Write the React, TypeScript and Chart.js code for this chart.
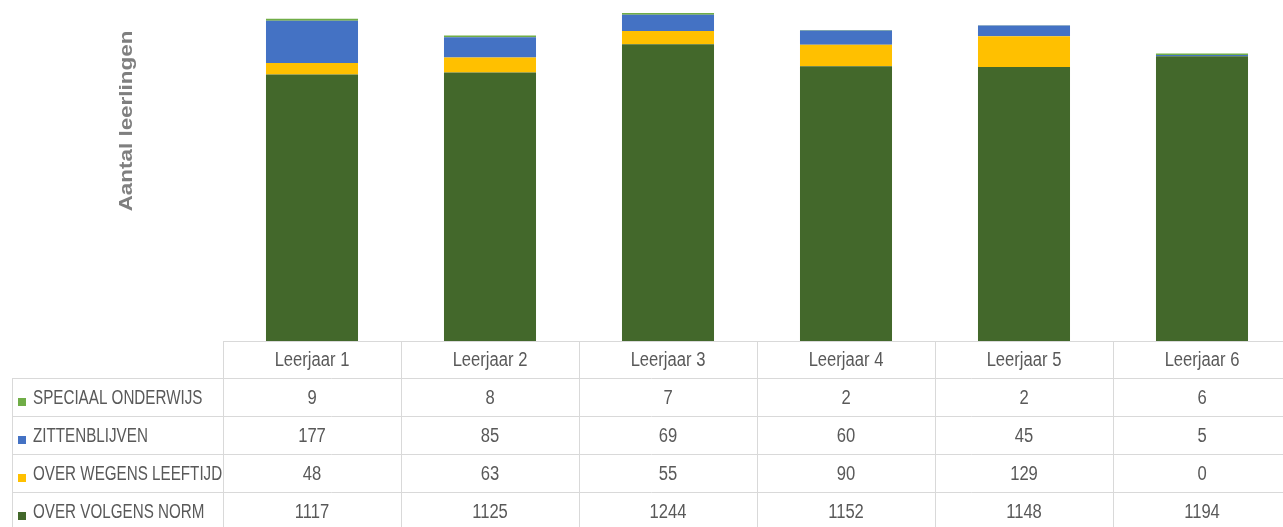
import React, { useEffect, useRef } from "react";
import { Chart, registerables } from "chart.js";

Chart.register(...registerables);

const categories = ["Leerjaar 1", "Leerjaar 2", "Leerjaar 3", "Leerjaar 4", "Leerjaar 5", "Leerjaar 6"];
const overVolgensNorm = [1117, 1125, 1244, 1152, 1148, 1194];
const overWegensLeeftijd = [48, 63, 55, 90, 129, 0];
const zittenblijven = [177, 85, 69, 60, 45, 5];
const speciaalOnderwijs = [9, 8, 7, 2, 2, 6];
const seriesNames = ["OVER VOLGENS NORM", "OVER WEGENS LEEFTIJD", "ZITTENBLIJVEN", "SPECIAAL ONDERWIJS"];
const seriesColors = ["#43682B", "#FFC000", "#4472C4", "#70AD47"];
const yMin = 0;
const yMax = 1400;
const yTitle = "Aantal leerlingen";

const TEXT_COLOR = "#595959";
const LINE_COLOR = "#d9d9d9";
const FONT = "Liberation Sans, Arial, sans-serif";
const SQUEEZE_CELL = 0.83;
const SQUEEZE_LABEL = 0.76;

function squeezedText(ctx: CanvasRenderingContext2D, text: string, x: number, y: number, align: CanvasTextAlign, sx: number) {
  ctx.save();
  ctx.translate(x, y);
  ctx.scale(sx, 1);
  ctx.textAlign = align;
  ctx.fillText(text, 0, 0);
  ctx.restore();
}

const tablePlugin = {
  id: "dataTable",
  afterDraw(chart: any) {
    const { ctx, chartArea, scales } = chart;
    const xs = scales.x;
    const n = categories.length;
    const colW = (chartArea.right - chartArea.left) / n;
    const top = chartArea.bottom;
    const headerH = 37;
    const rowH = 38;
    const labelLeft = 12;
    const right = chart.width;
    const bottom = chart.height;
    const datasets = chart.data.datasets;
    const rows = datasets.map((_: any, i: number) => i).reverse();

    ctx.save();
    ctx.strokeStyle = LINE_COLOR;
    ctx.lineWidth = 1;
    const line = (x1: number, y1: number, x2: number, y2: number) => {
      ctx.beginPath();
      ctx.moveTo(x1, y1);
      ctx.lineTo(x2, y2);
      ctx.stroke();
    };
    line(chartArea.left, Math.round(top) + 0.5, right, Math.round(top) + 0.5);
    for (let r = 0; r < rows.length; r++) {
      const y = Math.round(top + headerH + r * rowH) + 0.5;
      line(labelLeft, y, right, y);
    }
    line(labelLeft + 0.5, top + headerH, labelLeft + 0.5, bottom);
    for (let i = 0; i <= n; i++) {
      const xx = Math.round(chartArea.left + i * colW) + 0.5;
      line(xx, top, xx, bottom);
    }

    ctx.fillStyle = TEXT_COLOR;
    ctx.font = `20px ${FONT}`;
    ctx.textBaseline = "middle";
    for (let i = 0; i < n; i++) {
      squeezedText(ctx, categories[i], xs.getPixelForValue(i), top + headerH / 2 + 1, "center", SQUEEZE_CELL);
    }
    rows.forEach((di: number, r: number) => {
      const cy = top + headerH + r * rowH + rowH / 2 + 1;
      const ds = datasets[di];
      ctx.fillStyle = ds.backgroundColor;
      ctx.fillRect(labelLeft + 6, cy, 8, 8);
      ctx.fillStyle = TEXT_COLOR;
      squeezedText(ctx, ds.label, labelLeft + 21, cy, "left", SQUEEZE_LABEL);
      for (let i = 0; i < n; i++) {
        squeezedText(ctx, String(ds.data[i]), xs.getPixelForValue(i), cy, "center", SQUEEZE_CELL);
      }
    });

    // y axis title
    ctx.save();
    ctx.translate(127, 121);
    ctx.rotate(-Math.PI / 2);
    ctx.scale(1.18, 1);
    ctx.font = `bold 19px ${FONT}`;
    ctx.fillStyle = "#7f7f7f";
    ctx.textAlign = "center";
    ctx.textBaseline = "middle";
    ctx.fillText(yTitle, 0, 0);
    ctx.restore();

    ctx.restore();
  },
};

export default function App() {
  const canvasRef = useRef<HTMLCanvasElement | null>(null);

  useEffect(() => {
    const canvas = canvasRef.current;
    if (!canvas) return;
    const values = [overVolgensNorm, overWegensLeeftijd, zittenblijven, speciaalOnderwijs];
    const chart = new Chart(canvas, {
      type: "bar",
      data: {
        labels: categories,
        datasets: values.map((v, i) => ({
          label: seriesNames[i],
          data: v,
          backgroundColor: seriesColors[i],
          borderWidth: 0,
          categoryPercentage: 1,
          barPercentage: 0.517,
        })),
      },
      options: {
        responsive: false,
        animation: false,
        devicePixelRatio: 1,
        layout: { padding: { top: 7, bottom: 186, left: 223, right: 0 } },
        plugins: { legend: { display: false }, tooltip: { enabled: false }, title: { display: false } },
        scales: {
          x: { stacked: true, display: false, grid: { display: false } },
          y: { stacked: true, display: false, min: yMin, max: yMax, grid: { display: false } },
        },
      },
      plugins: [tablePlugin],
    });
    return () => chart.destroy();
  }, []);

  return (
    <div style={{ position: "absolute", left: 0, top: 0, width: 1283, height: 527, overflow: "hidden", background: "#fff" }}>
      <canvas ref={canvasRef} width={1291} height={527} style={{ display: "block" }} />
    </div>
  );
}
